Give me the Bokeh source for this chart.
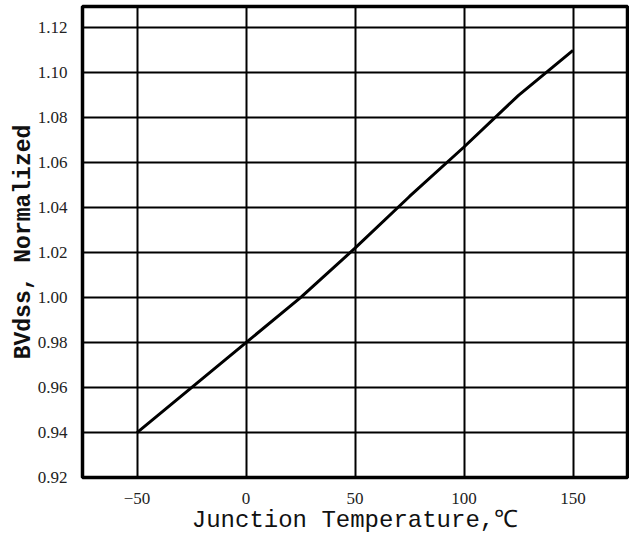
from bokeh.plotting import figure
from bokeh.models import FixedTicker, Range1d
from bokeh.embed import file_html
from bokeh.resources import INLINE

temps = [-50, 0, 25, 50, 75, 100, 125, 150]
bvdss = [0.940, 0.980, 1.000, 1.022, 1.045, 1.067, 1.090, 1.110]

x_ticks = [-50, 0, 50, 100, 150]
x_labels = ["\u221250", "0", "50", "100", "150"]
y_ticks = [0.92, 0.94, 0.96, 0.98, 1.00, 1.02, 1.04, 1.06, 1.08, 1.10, 1.12]
y_labels = ["0.92", "0.94", "0.96", "0.98", "1.00", "1.02", "1.04", "1.06", "1.08", "1.10", "1.12"]

p = figure(width=629, height=536, output_backend="svg", toolbar_location=None,
           x_range=Range1d(-75, 175), y_range=Range1d(0.92, 1.1295),
           min_border_left=82, min_border_right=2, min_border_top=6, min_border_bottom=56)

p.line(temps, bvdss, line_color="black", line_width=3)

p.xaxis.ticker = FixedTicker(ticks=x_ticks)
p.yaxis.ticker = FixedTicker(ticks=y_ticks)
p.xaxis.major_label_overrides = {t: l for t, l in zip(x_ticks, x_labels)}
p.yaxis.major_label_overrides = {t: l for t, l in zip(y_ticks, y_labels)}

for ax in (p.xaxis, p.yaxis):
    ax.axis_line_color = None
    ax.major_tick_line_color = None
    ax.minor_tick_line_color = None
    ax.major_label_text_font = "Liberation Serif"
    ax.major_label_text_font_size = "17px"
    ax.major_label_text_color = "#222222"
    ax.axis_label_text_font = "Liberation Mono"
    ax.axis_label_text_font_style = "normal"
    ax.axis_label_text_color = "#111111"

p.xaxis.major_label_standoff = 9
p.yaxis.major_label_standoff = 9
p.xaxis.axis_label = "Junction Temperature,\u2103"
p.xaxis.axis_label_text_font_size = "24px"
p.xaxis.axis_label_standoff = 0
p.yaxis.axis_label = "BVdss, Normalized"
p.yaxis.axis_label_text_font_size = "23px"
p.yaxis.axis_label_text_font_style = "bold"
p.yaxis.axis_label_standoff = -2

p.xgrid.grid_line_color = "black"
p.ygrid.grid_line_color = "black"
p.xgrid.grid_line_width = 2
p.ygrid.grid_line_width = 2
p.xgrid.ticker = FixedTicker(ticks=x_ticks)
p.ygrid.ticker = FixedTicker(ticks=y_ticks)

p.outline_line_color = "black"
p.outline_line_width = 3.5
p.background_fill_color = "white"
p.border_fill_color = "white"

open("out.html", "w").write(file_html(p, INLINE))
